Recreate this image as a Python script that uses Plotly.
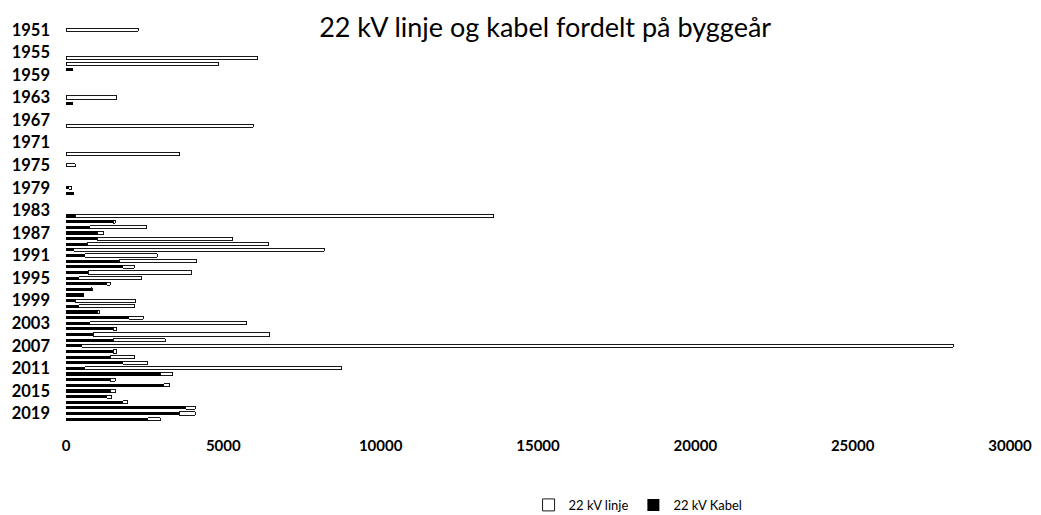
import plotly.graph_objects as go

years = list(range(1951, 2021))

# Values (metres), keyed by year; years not listed have no bar
linje_vals = {
    1951: 2300, 1956: 6100, 1957: 4850, 1963: 1620, 1968: 5950, 1973: 3620,
    1975: 290, 1979: 100,
    1984: 13300, 1985: 60, 1986: 1810, 1987: 180, 1988: 4300, 1989: 5780,
    1990: 7950, 1991: 2300, 1992: 2460, 1993: 370, 1994: 3300, 1995: 2000,
    1996: 100, 1997: 40, 1998: 10, 1999: 1920, 2000: 1790, 2001: 50,
    2002: 450, 2003: 4990, 2004: 120, 2005: 5620, 2006: 1650, 2007: 27700,
    2008: 120, 2009: 790, 2010: 800, 2011: 8170, 2012: 400, 2013: 160,
    2014: 200, 2015: 160, 2016: 160, 2017: 170, 2018: 300, 2019: 500,
    2020: 390,
}
kabel_vals = {
    1958: 230, 1964: 230, 1979: 80, 1980: 250,
    1984: 300, 1985: 1500, 1986: 760, 1987: 1000, 1988: 1000, 1989: 670,
    1990: 250, 1991: 600, 1992: 1700, 1993: 1800, 1994: 700, 1995: 400,
    1996: 1300, 1997: 800, 1998: 560, 1999: 300, 2000: 400, 2001: 1000,
    2002: 2000, 2003: 760, 2004: 1500, 2005: 860, 2006: 1500, 2007: 500,
    2008: 1500, 2009: 1400, 2010: 1800, 2011: 600, 2012: 3000, 2013: 1400,
    2014: 3100, 2015: 1400, 2016: 1300, 2017: 1800, 2018: 3800, 2019: 3600,
    2020: 2600,
}
linje = [linje_vals.get(y) for y in years]
kabel = [kabel_vals.get(y) for y in years]

y_ticks = list(range(1951, 2021, 4))
x_ticks = [0, 5000, 10000, 15000, 20000, 25000, 30000]

font_family = "Lato, Open Sans, sans-serif"

fig = go.Figure()
fig.add_trace(go.Bar(
    y=years, x=kabel, orientation="h", name="22 kV Kabel",
    marker=dict(color="#000000", line=dict(width=0)),
    width=0.55, legendrank=2,
))
fig.add_trace(go.Bar(
    y=years, x=linje, orientation="h", name="22 kV linje",
    marker=dict(color="#ffffff", line=dict(color="#000000", width=0.9)),
    width=0.55, legendrank=1,
))

fig.update_layout(
    barmode="stack",
    width=1041, height=515,
    margin=dict(l=58, r=39, t=19, b=101, autoexpand=False),
    paper_bgcolor="white", plot_bgcolor="white",
    font=dict(family=font_family, color="#000000"),
    title=dict(
        text="22 kV linje og kabel fordelt på byggeår",
        x=0.516, xanchor="center", y=1 - 20 / 515, yanchor="middle",
        yref="container", font=dict(size=27, family=font_family, color="#000000"),
    ),
    xaxis=dict(
        range=[0, 30000], tickvals=x_ticks, ticktext=[str(v) for v in x_ticks],
        showgrid=False, zeroline=False, showline=False, ticks="",
        ticklabelstandoff=13, automargin=False,
        tickfont=dict(size=15, family=font_family, weight="bold"),
    ),
    yaxis=dict(
        range=[2020.5, 1950.5], tickvals=y_ticks, ticktext=[str(v) for v in y_ticks],
        showgrid=False, zeroline=False, showline=False, ticks="",
        ticklabelstandoff=15, automargin=False,
        tickfont=dict(size=16.5, family=font_family, weight="bold"),
    ),
    legend=dict(
        orientation="h", x=0.606, xanchor="center", y=-0.21, yanchor="middle",
        traceorder="normal", itemwidth=30,
        font=dict(size=13, family=font_family),
    ),
    bargap=0.4,
)

fig.write_html("out.html")
